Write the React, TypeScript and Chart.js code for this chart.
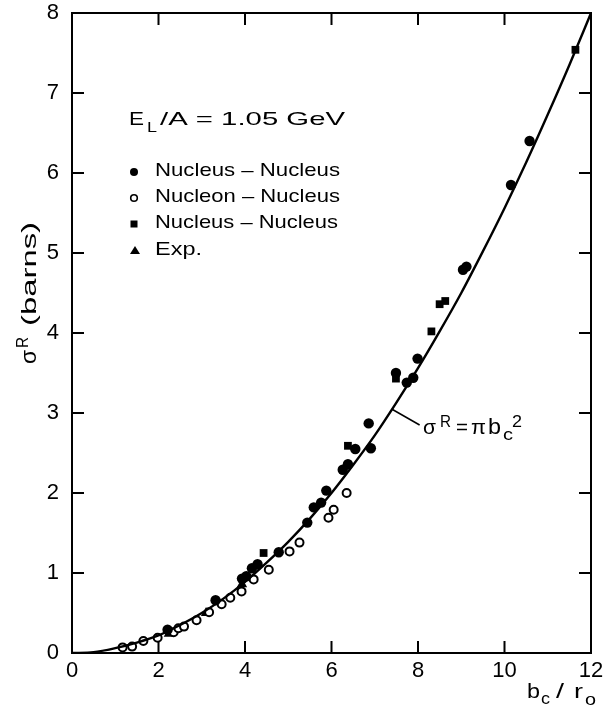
import React, { useEffect, useRef } from "react";
import { Chart, registerables } from "chart.js";

Chart.register(...registerables);

// Nucleus–nucleus (filled circles)
const nnX = [2.21, 3.32, 3.93, 4.03, 4.16, 4.29, 4.78, 5.44, 5.59, 5.76, 5.88, 6.26, 6.38, 6.55, 6.86, 6.91, 7.49, 7.74, 7.89, 7.99, 9.04, 9.12, 10.15, 10.58];
const nnY = [0.29, 0.66, 0.93, 0.96, 1.06, 1.11, 1.26, 1.63, 1.82, 1.88, 2.03, 2.29, 2.36, 2.55, 2.87, 2.56, 3.5, 3.38, 3.44, 3.68, 4.79, 4.83, 5.85, 6.4];

// Nucleon–nucleus (open circles)
const pnX = [1.17, 1.39, 1.65, 1.98, 2.35, 2.46, 2.59, 2.88, 3.17, 3.46, 3.66, 3.92, 4.2, 4.55, 5.03, 5.26, 5.93, 6.05, 6.35];
const pnY = [0.07, 0.08, 0.15, 0.19, 0.26, 0.31, 0.33, 0.41, 0.51, 0.61, 0.69, 0.77, 0.92, 1.04, 1.27, 1.38, 1.69, 1.79, 2.0];

// Nucleus–nucleus (filled squares)
const sqX = [4.43, 6.38, 7.49, 8.31, 8.5, 8.63, 11.64];
const sqY = [1.25, 2.59, 3.43, 4.02, 4.36, 4.4, 7.54];

// Experimental values (triangles)
const expX = [2.24, 3.1, 3.93];
const expY = [0.24, 0.5, 0.86];

// Geometric cross section sigma = pi b_c^2
const curveX = [0, 0.5, 1, 1.5, 2, 2.5, 3, 3.5, 4, 4.5, 5, 5.5, 6, 6.5, 7, 7.5, 8, 8.5, 9, 9.5, 10, 10.5, 11, 11.5, 12];
const curveY = [0, 0.01, 0.06, 0.13, 0.22, 0.35, 0.5, 0.68, 0.89, 1.13, 1.39, 1.68, 2.0, 2.35, 2.72, 3.13, 3.56, 4.02, 4.5, 5.02, 5.56, 6.13, 6.73, 7.35, 8.0];

const xTicks = [0, 2, 4, 6, 8, 10, 12];
const yTicks = [0, 1, 2, 3, 4, 5, 6, 7, 8];

const FONT = '"Liberation Sans", Arial, sans-serif';

const pts = (xs: number[], ys: number[]) => xs.map((x, i) => ({ x, y: ys[i] }));

// Draws text, optionally stretched horizontally to a given width.
function fitText(ctx: CanvasRenderingContext2D, s: string, x: number, y: number, size: number, width?: number) {
  ctx.font = `${size}px ${FONT}`;
  const natural = ctx.measureText(s).width;
  const sx = width ? width / natural : 1;
  ctx.save();
  ctx.translate(x, y);
  ctx.scale(sx, 1);
  ctx.fillText(s, 0, 0);
  ctx.restore();
}

const framePlugin = {
  id: "frameAndText",
  afterDraw(chart: any) {
    const ctx: CanvasRenderingContext2D = chart.ctx;
    const { left, right, top, bottom } = chart.chartArea;
    const xs = chart.scales.x;
    const ys = chart.scales.y;
    ctx.save();
    ctx.strokeStyle = "#000";
    ctx.fillStyle = "#000";
    ctx.lineWidth = 2;
    ctx.strokeRect(left, top, right - left, bottom - top);

    // inward tick marks on all four sides
    const tl = 12;
    ctx.beginPath();
    xTicks.slice(1, -1).forEach((v) => {
      const px = xs.getPixelForValue(v);
      ctx.moveTo(px, bottom);
      ctx.lineTo(px, bottom - tl);
      ctx.moveTo(px, top);
      ctx.lineTo(px, top + tl);
    });
    yTicks.slice(1, -1).forEach((v) => {
      const py = ys.getPixelForValue(v);
      ctx.moveTo(left, py);
      ctx.lineTo(left + tl, py);
      ctx.moveTo(right, py);
      ctx.lineTo(right - tl, py);
    });
    ctx.stroke();

    ctx.textBaseline = "alphabetic";
    ctx.textAlign = "left";

    // energy label
    fitText(ctx, "E", 129, 125, 19, 15);
    fitText(ctx, "L", 147, 132, 15, 10);
    fitText(ctx, "/A = 1.05 GeV", 160, 125, 19, 185);

    // legend
    const lx = 134;
    ctx.beginPath();
    ctx.arc(lx, 172, 4, 0, Math.PI * 2);
    ctx.fill();
    ctx.beginPath();
    ctx.lineWidth = 1.6;
    ctx.arc(lx, 198, 3.3, 0, Math.PI * 2);
    ctx.stroke();
    ctx.fillRect(lx - 3.5, 220.5, 7, 7);
    ctx.beginPath();
    ctx.moveTo(lx + 1, 246);
    ctx.lineTo(lx + 6, 254);
    ctx.lineTo(lx - 4, 254);
    ctx.closePath();
    ctx.fill();
    fitText(ctx, "Nucleus – Nucleus", 155, 176, 19, 185);
    fitText(ctx, "Nucleon – Nucleus", 155, 202, 19, 185);
    fitText(ctx, "Nucleus – Nucleus", 155, 228, 19, 183);
    fitText(ctx, "Exp.", 155, 255, 19, 47);

    // curve annotation with leader line
    const ax = xs.getPixelForValue(7.39);
    const ay = ys.getPixelForValue(3.05);
    ctx.lineWidth = 1.6;
    ctx.beginPath();
    ctx.moveTo(ax, ay);
    ctx.lineTo(ax + 28, ay + 16);
    ctx.stroke();
    fitText(ctx, "σ", 423, 434, 21, 13);
    fitText(ctx, "R", 440, 427, 16, 11);
    fitText(ctx, "=", 456, 434, 20, 12);
    fitText(ctx, "π", 471, 434, 21, 15);
    fitText(ctx, "b", 488, 434, 22, 13);
    fitText(ctx, "c", 503, 440, 16, 10);
    fitText(ctx, "2", 512, 427, 16, 10);

    // x-axis title
    fitText(ctx, "b", 527, 698, 21, 13);
    fitText(ctx, "c", 541, 704, 16, 9);
    fitText(ctx, "/", 556, 698, 21, 8);
    fitText(ctx, "r", 574, 698, 21, 9);
    fitText(ctx, "o", 585, 705, 16, 11);

    // y-axis title (rotated)
    ctx.save();
    ctx.translate(36, 364);
    ctx.rotate(-Math.PI / 2);
    fitText(ctx, "σ", 0, 0, 22, 14);
    fitText(ctx, "R", 16, -8, 16, 11);
    fitText(ctx, "(barns)", 38, 0, 21, 104);
    ctx.restore();

    ctx.restore();
  },
};

export default function App() {
  const ref = useRef<HTMLCanvasElement | null>(null);

  useEffect(() => {
    if (!ref.current) return;
    const chart = new Chart(ref.current, {
      type: "scatter",
      data: {
        datasets: [
          {
            type: "line",
            label: "σ = πb²",
            data: pts(curveX, curveY),
            borderColor: "#000",
            borderWidth: 2.4,
            pointRadius: 0,
            cubicInterpolationMode: "monotone",
            fill: false,
          } as any,
          {
            label: "Nucleus – Nucleus",
            data: pts(nnX, nnY),
            pointStyle: "circle",
            pointRadius: 5.2,
            backgroundColor: "#000",
            borderColor: "#000",
            borderWidth: 0,
          },
          {
            label: "Nucleon – Nucleus",
            data: pts(pnX, pnY),
            pointStyle: "circle",
            pointRadius: 4,
            backgroundColor: "#fff",
            borderColor: "#000",
            borderWidth: 2,
          },
          {
            label: "Nucleus – Nucleus ",
            data: pts(sqX, sqY),
            pointStyle: "rect",
            pointRadius: 5.5,
            backgroundColor: "#000",
            borderColor: "#000",
            borderWidth: 0,
          },
          {
            label: "Exp.",
            data: pts(expX, expY),
            pointStyle: "triangle",
            pointRadius: 6,
            backgroundColor: "#000",
            borderColor: "#000",
            borderWidth: 0,
          },
        ],
      },
      options: {
        responsive: false,
        animation: false,
        devicePixelRatio: 1,
        layout: { padding: { top: 13, right: 22, left: 0, bottom: 0 } },
        plugins: {
          legend: { display: false },
          tooltip: { enabled: false },
        },
        scales: {
          x: {
            type: "linear",
            min: 0,
            max: 12,
            afterBuildTicks: (s: any) => {
              s.ticks = xTicks.map((v) => ({ value: v }));
            },
            afterFit: (s: any) => {
              s.height = 58;
              s.paddingLeft = 0;
              s.paddingRight = 0;
              s.paddingTop = 0;
              s.paddingBottom = 0;
            },
            ticks: {
              color: "#000",
              font: { family: FONT, size: 22 },
              padding: 5,
              maxRotation: 0,
            },
            grid: { display: false, drawTicks: false },
            border: { display: false },
          },
          y: {
            type: "linear",
            min: 0,
            max: 8,
            afterBuildTicks: (s: any) => {
              s.ticks = yTicks.map((v) => ({ value: v }));
            },
            afterFit: (s: any) => {
              s.width = 72;
              s.paddingLeft = 0;
              s.paddingRight = 0;
              s.paddingTop = 0;
              s.paddingBottom = 0;
            },
            ticks: {
              color: "#000",
              font: { family: FONT, size: 22 },
              padding: 13,
            },
            grid: { display: false, drawTicks: false },
            border: { display: false },
          },
        },
      },
      plugins: [framePlugin],
    });
    return () => chart.destroy();
  }, []);

  return (
    <div style={{ position: "absolute", left: 0, top: 0, width: 613, height: 711, background: "#fff" }}>
      <canvas ref={ref} width={613} height={711} style={{ display: "block" }} />
    </div>
  );
}
